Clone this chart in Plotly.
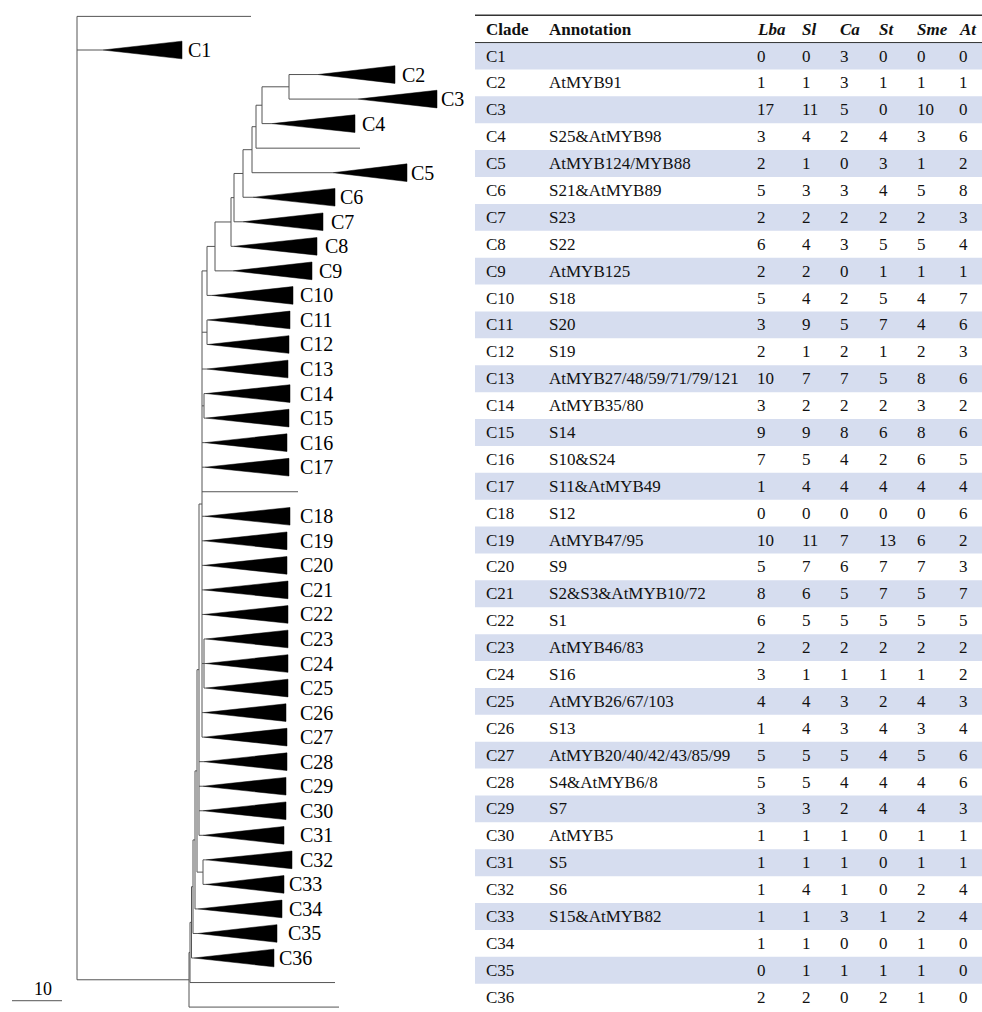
import plotly.graph_objects as go

# ---------------- clade table ----------------
clades = [f"C{i}" for i in range(1, 37)]
annotation_text = [
    "", "AtMYB91", "", "S25&AtMYB98", "AtMYB124/MYB88", "S21&AtMYB89", "S23", "S22",
    "AtMYB125", "S18", "S20", "S19", "AtMYB27/48/59/71/79/121", "AtMYB35/80", "S14",
    "S10&S24", "S11&AtMYB49", "S12", "AtMYB47/95", "S9", "S2&S3&AtMYB10/72", "S1",
    "AtMYB46/83", "S16", "AtMYB26/67/103", "S13", "AtMYB20/40/42/43/85/99",
    "S4&AtMYB6/8", "S7", "AtMYB5", "S5", "S6", "S15&AtMYB82", "", "", "",
]
species = ["Lba", "Sl", "Ca", "St", "Sme", "At"]
count_lba = [0, 1, 17, 3, 2, 5, 2, 6, 2, 5, 3, 2, 10, 3, 9, 7, 1, 0, 10, 5, 8, 6, 2, 3, 4, 1, 5, 5, 3, 1, 1, 1, 1, 1, 0, 2]
count_sl = [0, 1, 11, 4, 1, 3, 2, 4, 2, 4, 9, 1, 7, 2, 9, 5, 4, 0, 11, 7, 6, 5, 2, 1, 4, 4, 5, 5, 3, 1, 1, 4, 1, 1, 1, 2]
count_ca = [3, 3, 5, 2, 0, 3, 2, 3, 0, 2, 5, 2, 7, 2, 8, 4, 4, 0, 7, 6, 5, 5, 2, 1, 3, 3, 5, 4, 2, 1, 1, 1, 3, 0, 1, 0]
count_st = [0, 1, 0, 4, 3, 4, 2, 5, 1, 5, 7, 1, 5, 2, 6, 2, 4, 0, 13, 7, 7, 5, 2, 1, 2, 4, 4, 4, 4, 0, 0, 0, 1, 0, 1, 2]
count_sme = [0, 1, 10, 3, 1, 5, 2, 5, 1, 4, 4, 2, 8, 3, 8, 6, 4, 0, 6, 7, 5, 5, 2, 1, 4, 3, 5, 4, 4, 1, 1, 2, 2, 1, 1, 1]
count_at = [0, 1, 0, 6, 2, 8, 3, 4, 1, 7, 6, 3, 6, 2, 6, 5, 4, 6, 2, 3, 7, 5, 2, 2, 3, 4, 6, 6, 3, 1, 1, 4, 4, 0, 0, 0]
counts = [count_lba, count_sl, count_ca, count_st, count_sme, count_at]

# ---------------- tree (branch depths, scale units) ----------------
# collapsed clades: depth where the triangle starts and where it ends
clade_apex = [5.2, 48.2, 56.2, 39.0, 51.2, 35.2, 33.2, 31.4, 31.2, 27.0,
              26.2, 26.2, 26.0, 25.8, 25.8, 25.6, 25.6, 25.6, 25.4, 25.4,
              25.4, 25.4, 25.8, 25.8, 25.8, 25.4, 25.4, 25.4, 25.2, 25.2,
              25.2, 25.8, 25.8, 24.2, 24.2, 23.4]
clade_tip = [21.0, 63.6, 72.0, 55.6, 66.0, 51.6, 49.2, 48.0, 47.0, 43.2,
             42.6, 42.4, 42.2, 42.6, 42.4, 42.0, 42.4, 42.6, 42.0, 42.0,
             42.2, 42.2, 42.2, 42.2, 42.2, 41.8, 42.0, 42.0, 41.8, 41.8,
             41.4, 43.0, 41.4, 41.0, 40.0, 39.4]
# single sequences (not collapsed)
single_leaves = ["L1", "L2", "L3", "L4", "L5"]
single_tip = [34.8, 56.6, 44.2, 51.6, 52.4]

# top-to-bottom order of tips; extra spacing before C1
leaf_order = (["L1", "C1", "C2", "C3", "C4", "L2"] + [f"C{i}" for i in range(5, 18)]
              + ["L3"] + [f"C{i}" for i in range(18, 37)] + ["L4", "L5"])
extra_gap = {"C1": 0.37}

# internal nodes: (name, depth, children)
n10 = ("N10", 26.0, [
    ("N9", 27.6, [
        ("N78", 30.8, [
            ("Nx", 31.4, [
                ("N6", 33.2, [
                    ("N5", 35.0, [
                        ("NL", 35.8, [
                            ("N4", 37.0, [("N23", 42.4, ["C2", "C3"]), "C4"]),
                            "L2"]),
                        "C5"]),
                    "C6"]),
                "C7"]),
            "C8"]),
        "C9"]),
    "C10"])
m6 = ("M6", 25.0, [n10, ("M1112", 26.0, ["C11", "C12"]), "C13",
                   ("M1415", 25.4, ["C14", "C15"]), "C16", "C17", "L3",
                   "C18", "C19", "C20", "C21", "C22",
                   ("M2325", 25.4, ["C23", "C24", "C25"]), "C26", "C27"])
tree = ("R", 0.0, [
    "L1", "C1",
    ("BIG", 22.4, [
        ("BIG2", 22.6, [
            ("M1", 22.9, [
                ("M2", 23.2, [
                    ("M3", 23.6, [
                        ("M4", 24.0, [
                            ("M5", 24.4, [m6, "C28", "C29", "C30", "C31"]),
                            ("M3233", 25.2, ["C32", "C33"])]),
                        "C34"]),
                    "C35"]),
                "C36"]),
            "L4"]),
        "L5"]),
])

# label anchor depth for each clade name
label_depth = [21.8, 64.6, 72.4, 56.6, 66.4, 52.2, 50.4, 49.2, 48.0] + [44.2] * 23 + [42.0, 42.0, 41.8, 40.0]

# ---------------- build tree geometry ----------------
slot = {}
pos = 0.0
for i, name in enumerate(leaf_order):
    if i > 0:
        pos += 1.0 + extra_gap.get(name, 0.0)
    slot[name] = pos
shift = slot[leaf_order[1]]
for k in slot:
    slot[k] -= shift

apex = dict(zip(clades, clade_apex))
tip = dict(zip(clades, clade_tip))
tip.update(dict(zip(single_leaves, single_tip)))
HALF = 0.36

lx, ly = [], []
tx, ty = [], []


def seg(x0, y0, x1, y1):
    lx.extend([x0, x1, None])
    ly.extend([y0, y1, None])


def walk(node, parent_depth):
    if isinstance(node, str):
        y = slot[node]
        if node in apex:
            seg(parent_depth, y, apex[node], y)
            tx.extend([apex[node], tip[node], tip[node], apex[node], None])
            ty.extend([y, y - HALF, y + HALF, y, None])
        else:
            seg(parent_depth, y, tip[node], y)
        return y
    _, depth, children = node
    ys = [walk(c, depth) for c in children]
    seg(depth, ys[0], depth, ys[-1])
    y = (ys[0] + ys[-1]) / 2
    if parent_depth is not None:
        seg(parent_depth, y, depth, y)
    return y


walk(tree, None)

fig = go.Figure()
fig.add_trace(go.Scatter(x=lx, y=ly, mode="lines", xaxis="x", yaxis="y",
                         line=dict(color="#555555", width=1), hoverinfo="skip"))
fig.add_trace(go.Scatter(x=tx, y=ty, mode="lines", fill="toself", xaxis="x", yaxis="y",
                         fillcolor="black", line=dict(color="black", width=0.5),
                         hoverinfo="skip"))

annots = []
serif = "Liberation Serif"
for name, lxd in zip(clades, label_depth):
    annots.append(dict(x=lxd, y=slot[name], xref="x", yref="y", text=name,
                       showarrow=False, xanchor="left", yanchor="middle",
                       font=dict(family=serif, size=20, color="black")))

# scale bar (10 units)
scale_len = 10
scale_y = 38.74
fig.add_trace(go.Scatter(x=[-13, -13 + scale_len], y=[scale_y, scale_y], mode="lines",
                         xaxis="x", yaxis="y", line=dict(color="#555555", width=1),
                         hoverinfo="skip"))
annots.append(dict(x=-6.8, y=38.26, xref="x", yref="y", text=str(scale_len),
                   showarrow=False, xanchor="center", yanchor="middle",
                   font=dict(family=serif, size=18, color="black")))

# ---------------- table ----------------
col_x = [19, 82, 290, 335, 373, 412, 450, 492]
band_color = "rgb(214,221,239)"
shapes = []
for r in range(len(clades)):
    if r % 2 == 0:
        shapes.append(dict(type="rect", xref="x2", yref="y2", x0=10, x1=517,
                           y0=r - 0.5, y1=r + 0.5, fillcolor=band_color,
                           line=dict(width=0), layer="below"))
shapes.append(dict(type="line", xref="x2", yref="y2", x0=10, x1=517, y0=-1.52, y1=-1.52,
                   line=dict(color="#333333", width=1.5)))
shapes.append(dict(type="line", xref="x2", yref="y2", x0=10, x1=517, y0=-0.5, y1=-0.5,
                   line=dict(color="#333333", width=1)))

tfont = dict(family=serif, size=17, color="#111111")
headers = ["<b>Clade</b>", "<b>Annotation</b>"] + [f"<b><i>{s}</i></b>" for s in species]
for cx, h in zip(col_x, headers):
    annots.append(dict(x=cx, y=-1, xref="x2", yref="y2", text=h, showarrow=False,
                       xanchor="left", yanchor="middle", font=tfont))
for r, name in enumerate(clades):
    row = [name, annotation_text[r]] + [str(c[r]) for c in counts]
    for cx, val in zip(col_x, row):
        if val == "":
            continue
        annots.append(dict(x=cx, y=r, xref="x2", yref="y2", text=val, showarrow=False,
                           xanchor="left", yanchor="middle", font=tfont))

hidden = dict(visible=False, showgrid=False, zeroline=False, fixedrange=True)
fig.update_layout(
    width=982, height=1012,
    margin=dict(l=0, r=0, t=0, b=0),
    paper_bgcolor="white", plot_bgcolor="white",
    showlegend=False,
    xaxis=dict(domain=[0, 465 / 982], range=[-15.4, 77.6], **hidden),
    yaxis=dict(domain=[0, 1], range=[39.2, -2.0375], **hidden),
    xaxis2=dict(domain=[465 / 982, 1], range=[0, 517], anchor="y2", **hidden),
    yaxis2=dict(domain=[0, 1], range=[35.552, -2.0826], anchor="x2", **hidden),
    shapes=shapes,
    annotations=annots,
)

fig.write_html("out.html")
